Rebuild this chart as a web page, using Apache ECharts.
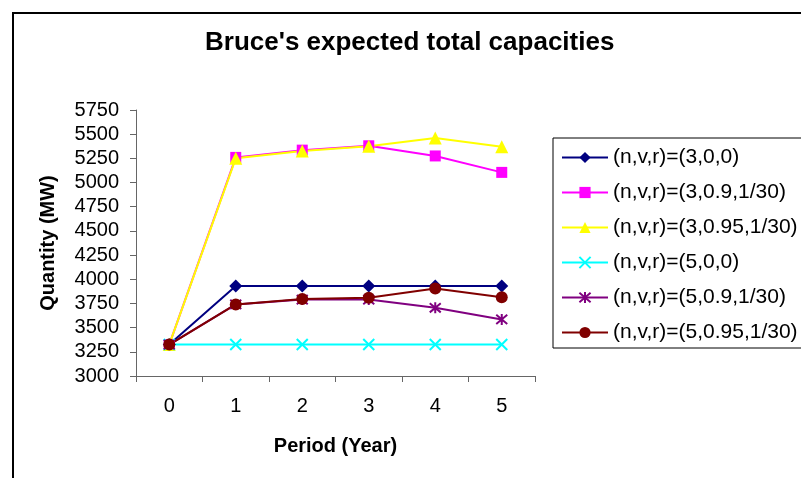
<!DOCTYPE html>
<html>
<head>
<meta charset="utf-8">
<script src="https://cdn.jsdelivr.net/npm/echarts@6/dist/echarts.min.js"></script>
<style>
  html, body { margin: 0; padding: 0; background: #fff; }
  #chart { width: 801px; height: 478px; }
</style>
</head>
<body>
<div id="chart"></div>
<script>
// periods on the x axis
const periods = ['0', '1', '2', '3', '4', '5'];

// series names (legend)
const names = [
  '(n,v,r)=(3,0,0)',
  '(n,v,r)=(3,0.9,1/30)',
  '(n,v,r)=(3,0.95,1/30)',
  '(n,v,r)=(5,0,0)',
  '(n,v,r)=(5,0.9,1/30)',
  '(n,v,r)=(5,0.95,1/30)'
];

// expected total capacities (MW)
const cap_3_0_0 = [3325, 3930, 3930, 3930, 3930, 3930];
const cap_3_09 = [3325, 5260, 5335, 5380, 5275, 5105];
const cap_3_095 = [3325, 5250, 5325, 5375, 5460, 5370];
const cap_5_0_0 = [3325, 3325, 3325, 3325, 3325, 3325];
const cap_5_09 = [3325, 3740, 3790, 3790, 3705, 3585];
const cap_5_095 = [3325, 3740, 3795, 3810, 3905, 3815];

const font = 'Liberation Sans, Arial, sans-serif';

const xPath = 'path://M0,0L10,10M10,0L0,10';
const starPath = 'path://M0,0L10,10M10,0L0,10M5,-1L5,11';

function mk(name, data, color, symbol, size, extra) {
  return Object.assign({
    name: name,
    type: 'line',
    data: data,
    symbol: symbol,
    symbolSize: size,
    showSymbol: true,
    lineStyle: { color: color, width: 2 },
    itemStyle: { color: color, borderWidth: 0 },
    emphasis: { disabled: true },
    animation: false
  }, extra || {});
}

const chart = echarts.init(document.getElementById('chart'), null, { renderer: 'canvas' });

chart.setOption({
  backgroundColor: '#fff',
  animation: false,
  title: {
    text: "Bruce's expected total capacities",
    left: 205,
    top: 30,
    padding: 0,
    textStyle: { fontFamily: font, fontSize: 26, fontWeight: 'bold', color: '#000' }
  },
  legend: {
    orient: 'vertical',
    left: 553,
    top: 138,
    padding: [9, 20, 5, 8],
    itemWidth: 46,
    itemHeight: 14,
    itemGap: 14,
    borderColor: '#000',
    borderWidth: 1,
    textStyle: { fontFamily: font, fontSize: 21, color: '#000' },
    data: names
  },
  grid: { left: 136, top: 110, right: 266, bottom: 102, containLabel: false },
  xAxis: {
    type: 'category',
    data: periods,
    boundaryGap: true,
    name: 'Period (Year)',
    nameLocation: 'middle',
    nameGap: 60,
    nameTextStyle: { fontFamily: font, fontSize: 20, fontWeight: 'bold', color: '#000' },
    axisLine: { lineStyle: { color: '#666', width: 1 } },
    axisTick: { show: true, length: 6, alignWithLabel: false, lineStyle: { color: '#666' } },
    axisLabel: { fontFamily: font, fontSize: 20, color: '#000', margin: 20 },
    splitLine: { show: false }
  },
  yAxis: {
    type: 'value',
    min: 3000,
    max: 5750,
    interval: 250,
    name: 'Quantity (MW)',
    nameLocation: 'middle',
    nameGap: 78,
    nameRotate: 90,
    nameTextStyle: { fontFamily: font, fontSize: 20, fontWeight: 'bold', color: '#000' },
    axisLine: { show: true, lineStyle: { color: '#666', width: 1 } },
    axisTick: { show: true, inside: false, length: 6, lineStyle: { color: '#666' } },
    axisLabel: {
      fontFamily: font, fontSize: 20, color: '#000', margin: 17,
      formatter: function (v) { return String(v); }
    },
    splitLine: { show: false }
  },
  graphic: [{
    type: 'rect',
    shape: { x: 13, y: 13, width: 830, height: 500 },
    style: { fill: 'none', stroke: '#000', lineWidth: 2 },
    silent: true,
    z: 100
  }],
  series: [
    mk(names[0], cap_3_0_0, '#000080', 'diamond', 13),
    mk(names[1], cap_3_09, '#FF00FF', 'rect', 11),
    mk(names[2], cap_3_095, '#FFFF00', 'triangle', 13),
    mk(names[3], cap_5_0_0, '#00FFFF', xPath, 11, {
      itemStyle: { color: '#00FFFF', borderColor: '#00FFFF', borderWidth: 2 }
    }),
    mk(names[4], cap_5_09, '#800080', starPath, 11, {
      itemStyle: { color: '#800080', borderColor: '#800080', borderWidth: 2 }
    }),
    mk(names[5], cap_5_095, '#800000', 'circle', 12)
  ]
});
</script>
</body>
</html>
